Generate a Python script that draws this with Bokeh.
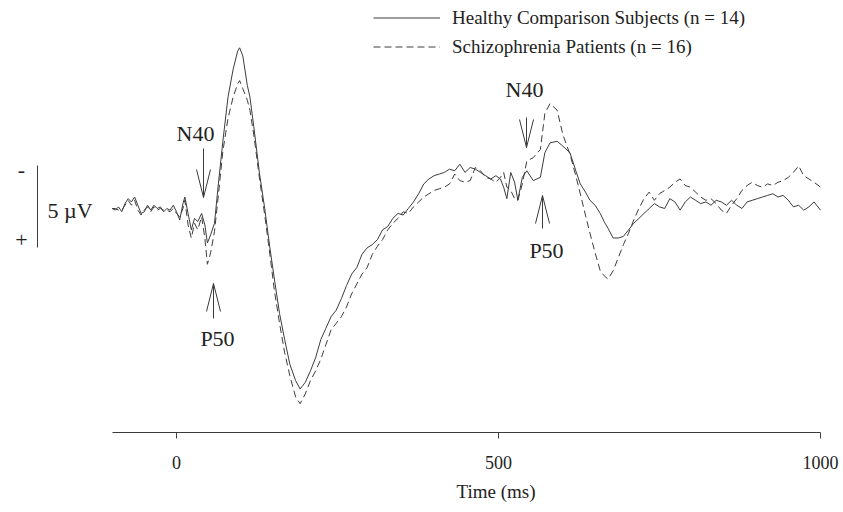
from bokeh.plotting import figure
from bokeh.models import (Range1d, LinearAxis, FixedTicker, Legend, LegendItem, Label, ColumnDataSource, Title)
from bokeh.embed import file_html
from bokeh.resources import INLINE

# ---- data (time in ms, amplitude in microvolts; negative plotted upward) ----
times = [-100, -95, -90, -85, -80, -75, -70, -65, -60, -55, -50, -45, -40, -35, -30, -25, -20, -15, -10, -5, 0,
         5, 10, 13, 18, 23, 28, 33, 39, 44, 48, 53, 59,
         65, 72, 80, 88, 95, 98, 103, 110, 114, 120,
         129, 137, 145, 152, 160, 168, 176, 185, 192, 200,
         208, 216, 224, 232, 240, 248, 256, 264, 272, 280,
         288, 296, 304, 312, 320, 328, 336, 344, 352, 360,
         368, 376, 384, 392, 400, 408, 416, 424, 432, 440,
         448, 456, 464, 472, 480, 488, 496,
         503, 508, 513, 519, 525, 530, 537, 544,
         554, 565, 572, 580, 591, 600, 611, 620, 627, 635,
         642, 650, 658, 664, 670, 678, 686, 694,
         702, 710, 718, 726, 734, 742, 750, 758, 766, 774,
         782, 790, 798, 806, 814, 822, 830, 838, 846, 854,
         862, 870, 878, 886, 894, 902, 910, 918, 926, 934,
         942, 950, 958, 966, 974, 982, 990, 1000]

healthy = [0.0, 0.1, -0.1, 0.2, -0.3, -0.6, -0.4, -0.7, -0.2, 0.3, 0.2, -0.2, 0.1, -0.2, 0.0, -0.1, 0.2, 0.0, 0.1, -0.2, 0.2,
           0.7, -0.3, -0.7, 0.3, 1.3, 0.6, 0.8, 0.3, 1.0, 2.1, 1.6, 0.9,
           -1.5, -4.1, -6.8, -8.5, -9.6, -9.8, -9.3, -7.5, -6.8, -5.0,
           -2.1, 0.0, 2.4, 4.3, 6.4, 8.0, 9.5, 10.5, 11.0, 10.6,
           9.9, 9.1, 8.0, 7.3, 6.6, 6.2, 5.5, 4.7, 4.0, 3.6,
           2.8, 2.4, 2.2, 1.9, 1.3, 1.1, 0.6, 0.3, 0.4, 0.0,
           -0.4, -0.9, -1.5, -1.8, -2.0, -2.1, -2.2, -2.4, -2.3, -2.7,
           -2.2, -2.5, -2.4, -2.2, -2.0, -1.8, -2.0,
           -1.8, -1.3, -0.6, -2.2, -1.6, -0.5, -1.9, -2.3,
           -1.7, -1.9, -3.4, -4.0, -4.1, -3.8, -3.4, -2.3, -1.5, -1.0,
           -0.5, -0.2, 0.3, 0.8, 1.2, 1.8, 1.8, 1.7,
           1.3, 0.9, 0.6, 0.3, 0.0, -0.3, -0.1, 0.0, -0.6, -0.4,
           0.1, -0.4, -0.7, -0.5, -0.3, -0.4, -0.2, -0.5, -0.4, -0.2,
           -0.5, -0.2, 0.0, -0.4, -0.5, -0.6, -0.7, -0.8, -0.9, -0.7,
           -0.8, -0.5, -0.1, -0.2, 0.1, -0.1, -0.4, 0.1]

patients = [0.0, 0.0, 0.1, 0.1, -0.2, -0.5, -0.2, -0.5, 0.1, 0.4, 0.1, -0.1, 0.2, -0.1, 0.1, 0.0, 0.1, 0.1, 0.2, 0.0, 0.3,
            0.5, 0.0, -0.5, 1.0, 1.8, 0.9, 1.3, 0.5, 1.8, 3.4, 2.7, 1.4,
            -0.8, -3.5, -5.5, -6.8, -7.6, -7.8, -7.3, -6.6, -6.0, -4.5,
            -1.8, 0.4, 2.8, 5.0, 7.0, 8.8, 10.2, 11.5, 11.9, 11.3,
            10.5, 9.9, 9.2, 8.3, 7.4, 7.0, 6.6, 6.0, 5.2, 4.6,
            4.0, 3.6, 2.8, 2.3, 1.9, 1.3, 0.9, 0.6, 0.2, 0.3,
            -0.1, -0.4, -0.7, -0.9, -1.1, -1.2, -1.3, -1.5, -2.1, -1.7,
            -1.6, -1.7, -2.5, -2.3, -1.9, -1.8, -1.6,
            -1.9, -2.2, -1.3, -1.1, -0.6, -0.5, -1.5, -2.9,
            -3.1, -3.6, -5.8, -6.4, -6.0, -4.5, -3.3, -2.0, -0.9, 0.4,
            1.5, 2.7, 3.8, 4.1, 4.3, 3.8, 3.0, 2.2,
            1.5, 0.7, 0.0, -0.6, -1.0, -0.5, -0.9, -1.1, -1.3, -1.6,
            -1.8, -1.4, -1.3, -1.0, -0.7, -0.5, -0.6, -0.3, 0.1, 0.3,
            -0.2, -0.6, -1.1, -1.4, -1.6, -1.4, -1.3, -1.5, -1.4, -1.6,
            -1.7, -1.9, -2.2, -2.6, -2.0, -1.8, -1.6, -1.3]

x_ticks = [0, 500, 1000]
series_labels = ["Healthy Comparison Subjects (n = 14)", "Schizophrenia Patients (n = 16)"]
x_title = "Time (ms)"
scale_bar_uv = 5

# ---- layout helpers (pixel -> data, for annotations only) ----
PX0, PXS = 176.0, 0.644     # x pixel of t=0, pixels per ms
PY0, PYS = 208.0, 16.4      # y pixel of 0 uV, pixels per uV
FW, FH = 843, 432

def X(px):
    return (px - PX0) / PXS

def Y(py):
    return (py - PY0) / PYS

p = figure(frame_width=FW, frame_height=FH, width=843, height=512,
           x_range=Range1d(X(0), X(FW)), y_range=Range1d(Y(FH), Y(0)),
           x_axis_type=None, y_axis_type=None,
           min_border_left=0, min_border_right=0, min_border_top=0, min_border_bottom=80,
           output_backend="svg", toolbar_location=None)
p.outline_line_color = None
p.grid.visible = False
p.background_fill_color = "white"
p.border_fill_color = "white"

SERIF = "Liberation Serif"
INK = "#222222"
LINE = "#3c3c3c"

src = ColumnDataSource(dict(t=times, h=healthy, s=patients))
r_h = p.line("t", "h", source=src, line_color=LINE, line_width=1)
r_s = p.line("t", "s", source=src, line_color=LINE, line_width=1, line_dash="7 4")

ax = LinearAxis(bounds=(-100, 1000), ticker=FixedTicker(ticks=x_ticks))
ax.axis_line_color = LINE
ax.major_tick_line_color = LINE
ax.major_tick_out = 6
ax.major_tick_in = 0
ax.minor_tick_line_color = None
ax.major_label_text_font = SERIF
ax.major_label_text_font_size = "18px"
ax.major_label_text_color = INK
ax.major_label_standoff = 17
p.add_layout(ax, "below")

# x title, centred under 500 ms as in the original
xt = Title(text=x_title, align="left", offset=456, standoff=14,
           text_font=SERIF, text_font_size="19px", text_font_style="normal", text_color=INK)
p.add_layout(xt, "below")

legend = Legend(items=[LegendItem(label=series_labels[0], renderers=[r_h]),
                       LegendItem(label=series_labels[1], renderers=[r_s])],
                location=(373, FH - 61), orientation="vertical")
legend.border_line_color = None
legend.background_fill_alpha = 0
legend.padding = 0
legend.margin = 0
legend.spacing = 0
legend.glyph_width = 67
legend.glyph_height = 29
legend.label_height = 29
legend.label_standoff = 12
legend.label_text_font = SERIF
legend.label_text_font_size = "19px"
legend.label_text_color = INK
p.add_layout(legend)

# ---- arrows marking N40 / P50 ----
def arrow(px, tail, tip):
    d = 1 if tip > tail else -1
    xs = [[X(px), X(px)], [X(px - 7), X(px), X(px + 7)]]
    ys = [[Y(tail), Y(tip)], [Y(tip - d * 28), Y(tip), Y(tip - d * 28)]]
    return xs, ys

axs, ays = [], []
for a in [(203, 148, 197), (213, 318, 283), (526, 117, 147), (542, 228, 195)]:
    xs, ys = arrow(*a)
    axs += xs
    ays += ys
p.multi_line(axs, ays, line_color=LINE, line_width=1)

def label(px, py, txt, size="22px", align="center"):
    p.add_layout(Label(x=X(px), y=Y(py), text=txt, text_font=SERIF, text_font_size=size,
                       text_color=INK, text_align=align, text_baseline="middle"))

label(195, 133, "N40")
label(217, 338, "P50")
label(524, 89, "N40")
label(546, 250, "P50")

# ---- amplitude scale bar ----
top_uv = Y(165)
p.segment(x0=[X(37)], y0=[top_uv], x1=[X(37)], y1=[top_uv + scale_bar_uv], line_color=LINE, line_width=1)
label(21, 169, "-", size="22px")
label(21, 239, "+", size="22px")
label(47, 210, "5 \u00b5V", size="22px", align="left")

open("out.html", "w").write(file_html(p, INLINE))
